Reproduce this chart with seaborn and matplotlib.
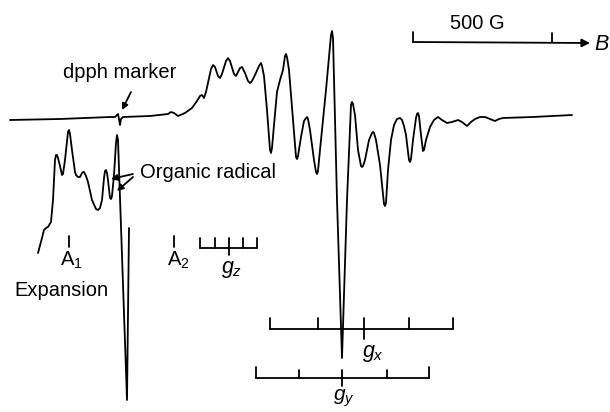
import matplotlib
matplotlib.use("Agg")
import matplotlib.pyplot as plt
import seaborn as sns
import pandas as pd

# ---- traced spectrum (picture coordinates: x right, y down) ----
main_x = [10, 60, 110, 115, 117, 118, 119, 120, 121, 123, 150, 168, 171, 174, 178, 185, 192, 197,
          200, 202, 204, 206, 209, 211, 213, 215, 218, 220, 222, 226, 228, 230, 234, 236, 238, 240,
          242, 245, 248, 250, 252, 255, 259, 261, 262, 264, 267, 270, 271, 272, 274, 277, 280, 283,
          285, 286, 287, 289, 293, 296, 297, 298, 301, 304, 306, 307, 308, 310, 314, 316, 317, 318,
          320, 326, 331, 332, 333, 337, 342, 347, 351, 352, 353, 355, 358, 361, 362, 363, 365, 369,
          372, 373, 374, 376, 380, 384, 385, 386, 388, 391, 394, 397, 400, 402, 404, 406, 409, 410,
          411, 413, 416, 417, 418, 419, 421, 423, 424, 426, 430, 434, 438, 442, 447, 452, 458, 462,
          467, 471, 475, 480, 485, 490, 495, 499, 503, 533, 572]
main_y = [120, 119, 117, 117, 115, 114, 119, 125, 119, 117, 116, 114, 112, 113, 116, 113, 108, 101,
          96, 95, 98, 92, 78, 69, 65, 67, 76, 78, 74, 61, 58, 61, 74, 76, 72, 68,
          67, 73, 81, 83, 81, 75, 66, 63, 66, 76, 110, 150, 153, 148, 125, 92, 80, 70,
          56, 54, 57, 70, 120, 157, 159, 156, 137, 121, 118, 117, 119, 130, 160, 172, 174, 171,
          150, 90, 35, 31, 38, 200, 358, 200, 105, 102, 104, 115, 150, 166, 167, 166, 160, 140,
          133, 132, 133, 140, 165, 204, 206, 203, 170, 140, 125, 119, 118, 120, 126, 135, 160, 162,
          159, 140, 118, 114, 113, 116, 135, 151, 150, 140, 127, 120, 117, 120, 123, 122, 120, 122,
          126, 122, 119, 117, 117, 119, 121, 119, 118, 117, 115]

exp_x = [38, 42, 44, 46, 48, 51, 53, 55, 56, 57, 58, 60, 62, 63, 65, 68, 69, 70, 72, 75, 76, 78,
         80, 82, 83, 84, 86, 88, 92, 96, 98, 100, 102, 104, 105, 106, 107, 108, 110, 111, 112, 114,
         116, 117, 118, 127, 129]
exp_y = [253, 238, 230, 228, 227, 222, 200, 160, 155, 155, 158, 166, 175, 174, 160, 132, 130, 134,
         150, 172, 175, 177, 177, 173, 172, 172, 176, 182, 200, 209, 210, 208, 200, 178, 171, 170,
         173, 180, 198, 199, 196, 175, 143, 135, 140, 400, 228]

# ---- stick diagrams ----
gz_ticks = [200, 215, 229, 243, 257]
gx_ticks = [270, 318, 364, 409, 453]
gy_ticks = [256, 299, 342, 387, 429]
field_bar = [413, 552]

sns.set_theme(style="white")
plt.rcParams["font.family"] = ["Liberation Sans", "DejaVu Sans"]
plt.rcParams["text.color"] = "black"
plt.rcParams["mathtext.fontset"] = "custom"
plt.rcParams["mathtext.rm"] = "Liberation Sans"
plt.rcParams["mathtext.it"] = "Liberation Sans:italic"

fig = plt.figure(figsize=(6.1, 4.12), dpi=100)
ax = fig.add_axes([0, 0, 1, 1])
ax.set_xlim(0, 610)
ax.set_ylim(412, 0)
ax.axis("off")

lw = 1.3
k = "black"
for xs, ys in ((main_x, main_y), (exp_x, exp_y)):
    sns.lineplot(data=pd.DataFrame({"x": xs, "y": ys}), x="x", y="y", sort=False,
                 estimator=None, color=k, lw=lw, ax=ax, solid_joinstyle="round")


def stick(ticks, base, end_h, in_h, centre_idx, below, ax):
    ax.plot([ticks[0], ticks[-1]], [base, base], color=k, lw=lw)
    for i, t in enumerate(ticks):
        h = end_h if i in (0, len(ticks) - 1) else in_h
        y1 = base + below if i == centre_idx else base
        ax.plot([t, t], [base - h, y1], color=k, lw=lw)


stick(gz_ticks, 248, 10, 10, 2, 7, ax)
stick(gx_ticks, 329, 11, 11, 2, 10, ax)
stick(gy_ticks, 378, 11, 8, 2, 8, ax)

# A1 / A2 ticks
ax.plot([69, 69], [236, 247], color=k, lw=lw)
ax.plot([174, 174], [236, 247], color=k, lw=lw)

# 500 G field bar
ax.plot([field_bar[0], field_bar[0]], [32, 42], color=k, lw=lw)
ax.plot([field_bar[1], field_bar[1]], [33, 42], color=k, lw=lw)
ax.annotate("", xy=(590, 43), xytext=(field_bar[0], 42),
            arrowprops=dict(arrowstyle="-|>", color=k, lw=lw, mutation_scale=12, shrinkA=0, shrinkB=0))

fs = 14.5
fg = 15.5
ax.text(477, 23, "500 G", ha="center", va="center", fontsize=fs)
ax.text(602, 44, r"$B$", ha="center", va="center", fontsize=fg)
ax.text(120, 72, "dpph marker", ha="center", va="center", fontsize=fs)
ax.text(208, 172, "Organic radical", ha="center", va="center", fontsize=fs)
ax.text(61, 290, "Expansion", ha="center", va="center", fontsize=fs)
ax.text(71, 260, r"A$_1$", ha="center", va="center", fontsize=fs)
ax.text(178, 260, r"A$_2$", ha="center", va="center", fontsize=fs)
ax.text(232, 270, r"$g_z$", ha="center", va="center", fontsize=fg)
ax.text(373, 354, r"$g_x$", ha="center", va="center", fontsize=fg)
ax.text(344, 398, r"$g_y$", ha="center", va="center", fontsize=15)

ap = dict(arrowstyle="-|>", color=k, lw=lw, mutation_scale=9, shrinkA=0, shrinkB=0)
ax.annotate("", xy=(122, 110), xytext=(131, 92), arrowprops=ap)
ax.annotate("", xy=(111, 179), xytext=(133, 174), arrowprops=ap)
ax.annotate("", xy=(117, 191), xytext=(133, 177), arrowprops=ap)

fig.savefig("out.png", dpi=100, facecolor="white")
